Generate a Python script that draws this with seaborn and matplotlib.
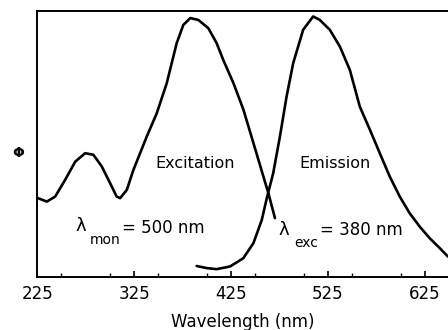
import matplotlib
matplotlib.use("Agg")
from matplotlib import pyplot as plt
from matplotlib.ticker import MultipleLocator
import seaborn as sns
import pandas as pd
import numpy as np

# %%
# Spectra (wavelength in nm, relative intensity 0-1)
exc_wl = [225.7, 235, 243.6, 253.9, 264.2, 274.5, 283, 291.7, 300.3, 307, 310.6, 317.5,
          324.3, 338, 348.4, 358.7, 369, 375.8, 383, 391.3, 401.6, 410.2, 417, 427.6,
          437.9, 448.2, 458.5, 463.6, 470.4]
exc_int = [0.296, 0.283, 0.302, 0.365, 0.433, 0.465, 0.459, 0.415, 0.352, 0.302, 0.296, 0.327,
           0.402, 0.527, 0.615, 0.728, 0.879, 0.947, 0.973, 0.966, 0.935, 0.879, 0.816, 0.728,
           0.628, 0.503, 0.377, 0.315, 0.221]

em_wl = [389.6, 400, 410.2, 424, 437.7, 448.2, 456.8, 462, 468.6, 475.5, 482.4, 489.2,
         499.5, 509.8, 516.7, 527, 537.4, 547.7, 558, 568.4, 578.6, 588.9, 599.2, 609.5,
         619.8, 630.2, 640.5, 649]
em_int = [0.041, 0.033, 0.029, 0.039, 0.070, 0.127, 0.214, 0.296, 0.390, 0.527, 0.678, 0.803,
          0.929, 0.979, 0.966, 0.929, 0.866, 0.778, 0.640, 0.553, 0.465, 0.377, 0.302, 0.239,
          0.189, 0.145, 0.108, 0.076]

xticks = [225, 325, 425, 525, 625]

# %%
sns.set_style("ticks")
plt.rcParams['font.family'] = ['DejaVu Sans']
plt.rcParams['text.color'] = 'black'
plt.rcParams['axes.labelcolor'] = 'black'
plt.rcParams['xtick.color'] = 'black'
plt.rcParams['axes.edgecolor'] = 'black'

fig = plt.figure(figsize=(4.48, 3.30), dpi=100)
ax = fig.add_axes([0.083, 0.161, 0.917, 0.806])

exc = pd.DataFrame({'wl': exc_wl, 'phi': exc_int})
em = pd.DataFrame({'wl': em_wl, 'phi': em_int})
sns.lineplot(data=exc, x='wl', y='phi', ax=ax, color='black', lw=1.9, solid_joinstyle='round')
sns.lineplot(data=em, x='wl', y='phi', ax=ax, color='black', lw=1.9, solid_joinstyle='round')

ax.set_xlim(225, 649)
ax.set_ylim(0, 1)
ax.set_xticks(xticks)
ax.xaxis.set_minor_locator(MultipleLocator(50))
ax.set_yticks([])
ax.tick_params(axis='x', which='major', direction='in', length=4, width=1.2, labelsize=12, pad=6)
ax.tick_params(axis='x', which='minor', direction='in', length=3, width=1.0)
ax.spines['right'].set_visible(False)
for s in ['left', 'top', 'bottom']:
    ax.spines[s].set_linewidth(1.4)

ax.set_xlabel('Wavelength (nm)', fontsize=12, labelpad=7)
ax.set_ylabel('')
fig.text(0.040, 0.536, 'Φ', fontsize=10, fontweight='bold', ha='center', va='center')

ax.text(387.9, 0.427, 'Excitation', fontsize=11.5, ha='center', va='center')
ax.text(532.2, 0.427, 'Emission', fontsize=11.5, ha='center', va='center')

# lambda labels with low subscripts
ax.text(264.2, 0.192, 'λ', fontsize=13, ha='left', va='center')
ax.text(279.6, 0.139, 'mon', fontsize=10, ha='left', va='center')
ax.text(312.6, 0.184, '= 500 nm', fontsize=12, ha='left', va='center')
ax.text(474.5, 0.177, 'λ', fontsize=13, ha='left', va='center')
ax.text(490.0, 0.128, 'exc', fontsize=10, ha='left', va='center')
ax.text(516.8, 0.177, '= 380 nm', fontsize=12, ha='left', va='center')

fig.savefig('out.png', dpi=100)
